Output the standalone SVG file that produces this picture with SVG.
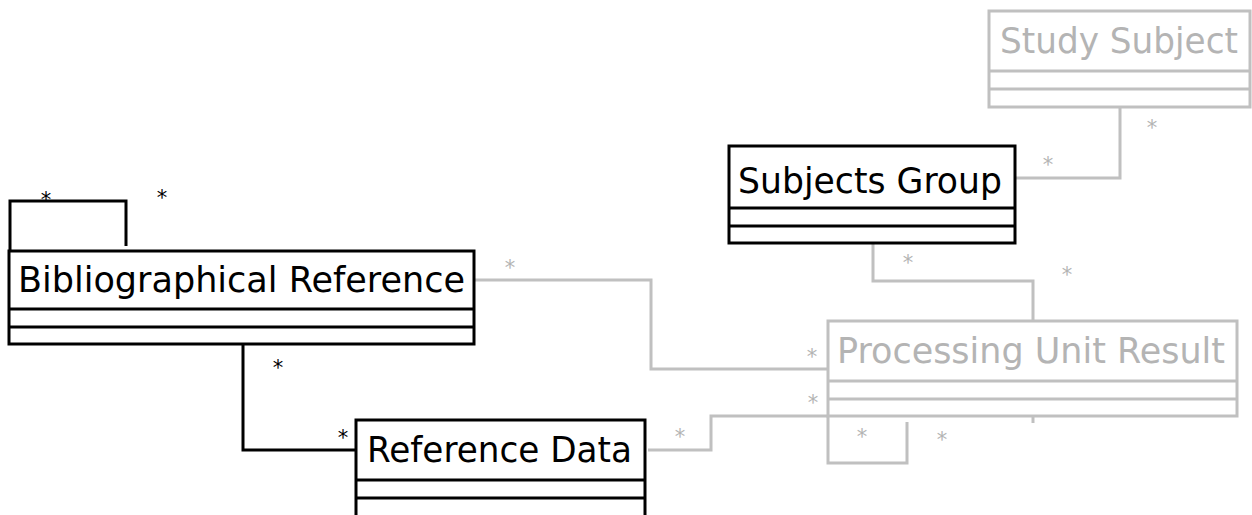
<svg xmlns="http://www.w3.org/2000/svg" width="1252" height="515" viewBox="0 0 1252 515">
<style>
.box{fill:#fff;stroke:#000;stroke-width:3}
.gbox{fill:#fff;stroke:#c0c0c0;stroke-width:3}
.sep{stroke:#000;stroke-width:3}
.gsep{stroke:#c0c0c0;stroke-width:3}
.t{font-family:"DejaVu Sans",sans-serif;font-size:35px;fill:#000}
.gt{font-family:"DejaVu Sans",sans-serif;font-size:35px;fill:#b4b4b4}
.c{fill:none;stroke:#000;stroke-width:3}
.gc{fill:none;stroke:#c0c0c0;stroke-width:3}
.m{font-family:"DejaVu Sans",sans-serif;font-size:21px;fill:#000;text-anchor:middle}
.gm{font-family:"DejaVu Sans",sans-serif;font-size:21px;fill:#b4b4b4;text-anchor:middle}
</style>
<rect width="1252" height="515" fill="#fff"/>
<g id="connectors">
<polyline class="c" points="10,250 10,201 126,201 126,246"/>
<polyline class="c" points="243,344 243,450 356,450"/>
<polyline class="gc" points="475,280 651,280 651,369 828,369"/>
<polyline class="gc" points="648,450 711,450 711,416 828,416"/>
<polyline class="gc" points="828,416 828,463 907,463 907,422"/>
<polyline class="gc" points="1015,178 1120,178 1120,107"/>
<polyline class="gc" points="873,243 873,281 1033,281 1033,321"/>
<line class="gc" x1="1033" y1="416" x2="1033" y2="423"/>
<text class="m" x="46" y="207">*</text>
<text class="m" x="162" y="205">*</text>
<text class="m" x="278" y="375">*</text>
<text class="m" x="343" y="445">*</text>
<text class="gm" x="510" y="275">*</text>
<text class="gm" x="812" y="364">*</text>
<text class="gm" x="813" y="410">*</text>
<text class="gm" x="680" y="444">*</text>
<text class="gm" x="862" y="444">*</text>
<text class="gm" x="942" y="447">*</text>
<text class="gm" x="908" y="270">*</text>
<text class="gm" x="1067" y="282">*</text>
<text class="gm" x="1048" y="172">*</text>
<text class="gm" x="1152" y="135">*</text>
</g>
<g id="bibliographical-reference">
<rect class="box" x="9" y="251" width="465" height="93"/>
<line class="sep" x1="9" y1="309" x2="474" y2="309"/>
<line class="sep" x1="9" y1="327" x2="474" y2="327"/>
<text class="t" x="18" y="292" textLength="447" lengthAdjust="spacingAndGlyphs">Bibliographical Reference</text>
</g>
<g id="reference-data">
<rect class="box" x="356" y="420" width="289" height="102"/>
<line class="sep" x1="356" y1="480" x2="645" y2="480"/>
<line class="sep" x1="356" y1="498" x2="645" y2="498"/>
<text class="t" x="367" y="462" textLength="265" lengthAdjust="spacingAndGlyphs">Reference Data</text>
</g>
<g id="subjects-group">
<rect class="box" x="729" y="146" width="286" height="97"/>
<line class="sep" x1="729" y1="208" x2="1015" y2="208"/>
<line class="sep" x1="729" y1="226" x2="1015" y2="226"/>
<text class="t" x="738" y="193" textLength="264" lengthAdjust="spacingAndGlyphs">Subjects Group</text>
</g>
<g id="study-subject">
<rect class="gbox" x="989" y="11" width="261" height="96"/>
<line class="gsep" x1="989" y1="71" x2="1250" y2="71"/>
<line class="gsep" x1="989" y1="89" x2="1250" y2="89"/>
<text class="gt" x="1000" y="53" textLength="238" lengthAdjust="spacingAndGlyphs">Study Subject</text>
</g>
<g id="processing-unit-result">
<rect class="gbox" x="828" y="321" width="409" height="95"/>
<line class="gsep" x1="828" y1="381" x2="1237" y2="381"/>
<line class="gsep" x1="828" y1="399" x2="1237" y2="399"/>
<text class="gt" x="837" y="363" textLength="388" lengthAdjust="spacingAndGlyphs">Processing Unit Result</text>
</g>
</svg>
